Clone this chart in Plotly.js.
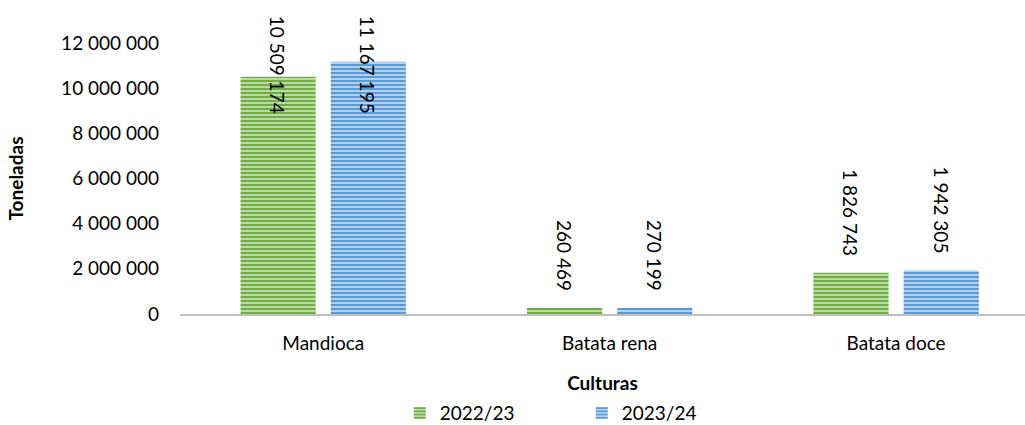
<!DOCTYPE html>
<html><head><meta charset="utf-8">
<script src="https://cdn.plot.ly/plotly-3.0.1.min.js"></script>
<style>html,body{margin:0;padding:0;background:#fff}#chart{width:1025px;height:425px}</style>
</head><body><div id="chart"></div>
<script>
const categories = ['Mandioca', 'Batata rena', 'Batata doce'];
const seriesNames = ['2022/23', '2023/24'];
const values2022 = [10509174, 260469, 1826743];
const values2023 = [11167195, 270199, 1942305];
const yTicks = [0, 2000000, 4000000, 6000000, 8000000, 10000000, 12000000];

const fmt = v => String(v).replace(/\B(?=(\d{3})+(?!\d))/g, ' ');
const FONT = 'Lato, "Open Sans", sans-serif';
const FS = 19;

const styles = [
  {fg: '#70AD47', bg: '#B9DBA1'},
  {fg: '#5B9BD5', bg: '#B3D0EE'}
];
const allSeries = [values2022, values2023];

const traces = allSeries.map((vals, i) => ({
  type: 'bar', name: seriesNames[i], x: categories, y: vals,
  marker: {color: styles[i].bg, line: {width: 0},
    pattern: {shape: '-', fgcolor: styles[i].fg, bgcolor: styles[i].bg, size: 4, solidity: 0.5, fillmode: 'replace'}},
  hoverinfo: 'x+y'
}));

const annotations = [];
allSeries.forEach((vals, i) => {
  vals.forEach((v, j) => {
    const shift = i === 0 ? -45 : 45;
    const base = {x: categories[j], xref: 'x', xshift: shift, text: fmt(v), textangle: 90,
      showarrow: false, font: {family: FONT, size: FS, color: '#000'}, xanchor: 'center'};
    if (v > 9000000) {
      annotations.push(Object.assign(base, {yref: 'paper', y: 1, yanchor: 'top', yshift: 29}));
    } else {
      annotations.push(Object.assign(base, {yref: 'y', y: v, yanchor: 'bottom', yshift: 15}));
    }
  });
});

const layout = {
  width: 1025, height: 425,
  margin: {l: 180, r: 0, t: 43, b: 111},
  paper_bgcolor: '#fff', plot_bgcolor: '#fff',
  separators: ', ',
  barmode: 'group', bargap: 0.37, bargroupgap: 0.167,
  font: {family: FONT, size: FS, color: '#000'},
  xaxis: {range: [-0.5, 2.45], showgrid: false, zeroline: false, showline: true,
    linecolor: '#BFBFBF', linewidth: 2, ticks: '', ticklabelstandoff: 11,
    tickfont: {family: FONT, size: FS, color: '#000'},
    title: {text: '<b>Culturas</b>', font: {family: FONT, size: FS, color: '#000'}, standoff: 28}},
  yaxis: {range: [0, 12000000], tickvals: yTicks, ticktext: yTicks.map(fmt),
    showgrid: false, zeroline: false, showline: false, ticks: '', ticklabelstandoff: 20,
    tickfont: {family: FONT, size: FS, color: '#000'},
    title: {text: '<b>Toneladas</b>', font: {family: FONT, size: FS, color: '#000'}, standoff: 32}},
  showlegend: true,
  legend: {orientation: 'h', xref: 'container', yref: 'container', x: 0.39, xanchor: 'left',
    y: 0.028, yanchor: 'middle', font: {family: FONT, size: FS, color: '#000'}, itemwidth: 30,
    entrywidth: 137},
  annotations: annotations
};

Plotly.newPlot('chart', traces, layout, {displayModeBar: false, staticPlot: true});
</script></body></html>
